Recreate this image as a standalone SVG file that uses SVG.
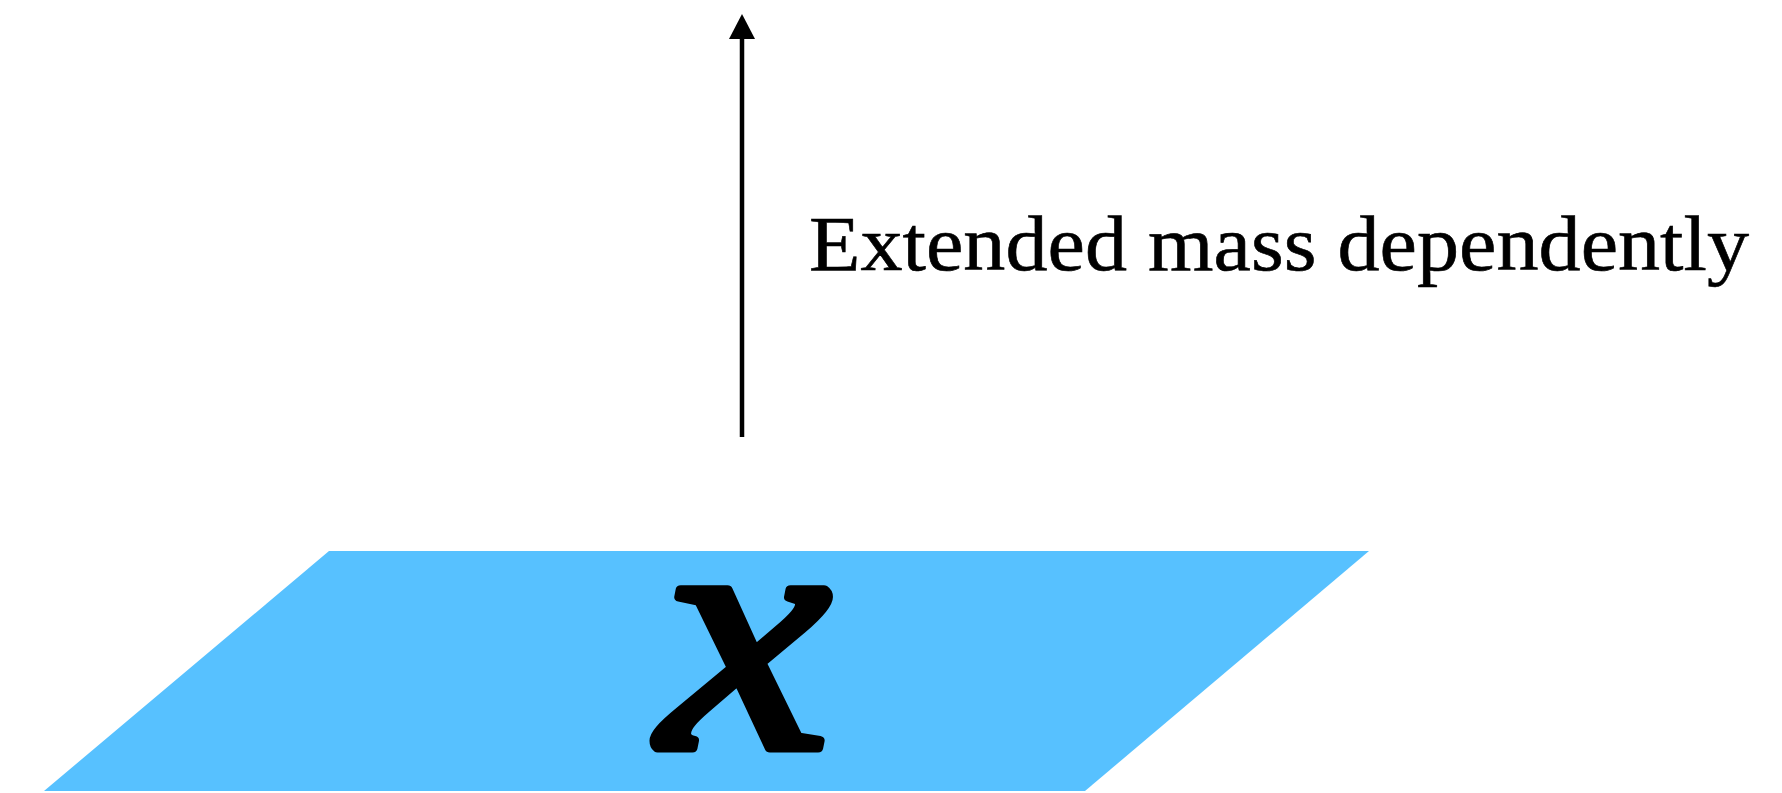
<svg xmlns="http://www.w3.org/2000/svg" width="1782" height="793" viewBox="0 0 1782 793">
<style>
.lbl{font-family:"Liberation Serif",serif;fill:#000}
</style>
<rect width="1782" height="793" fill="#fff"/>
<g id="plane">
<polygon points="329,551 1369,551 1085,791 44,791" fill="#57C1FF"/>
<text class="lbl" x="745" y="748" text-anchor="middle" font-size="345" font-style="italic" stroke="#000" stroke-width="9" stroke-linejoin="round" transform="translate(745,0) scale(1.12,1) translate(-745,0)">x</text>
</g>
<g id="connectors">
<line x1="742" y1="437" x2="742" y2="38" stroke="#000" stroke-width="4.5"/>
<path d="M742,14 L755,39 L729,39 Z" fill="#000"/>
</g>
<g id="label">
<text class="lbl" x="809" y="270" font-size="78" textLength="940" lengthAdjust="spacingAndGlyphs" stroke="#000" stroke-width="0.6">Extended mass dependently</text>
</g>
</svg>
